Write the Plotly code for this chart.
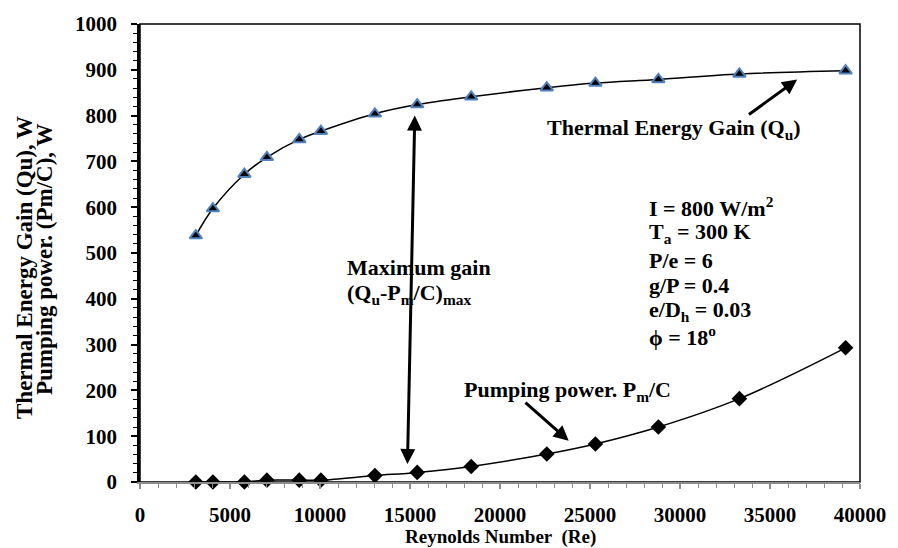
import plotly.graph_objects as go

# ---------------- data ----------------
reynolds = [3100, 4050, 5800, 7050, 8850, 10050, 13050, 15400, 18400, 22600, 25300, 28800, 33300, 39200]
thermal_gain = [538, 597, 672, 709, 748, 766, 804, 824, 841, 861, 871, 879, 891, 898]
pumping_power = [0, 0, 0, 4, 4, 4, 14, 21, 34, 61, 83, 120, 182, 293]

x_ticks = [0, 5000, 10000, 15000, 20000, 25000, 30000, 35000, 40000]
y_ticks = [0, 100, 200, 300, 400, 500, 600, 700, 800, 900, 1000]

FONT = "Liberation Serif"
fs = 22      # annotation text
tfs = 21     # tick labels

fig = go.Figure()

fig.add_trace(go.Scatter(
    x=reynolds, y=thermal_gain, mode="lines+markers",
    line=dict(color="black", width=1.5, shape="spline", smoothing=1.0),
    marker=dict(symbol="triangle-up", size=11, color="black",
                line=dict(color="#4F81BD", width=2)),
    showlegend=False, cliponaxis=False))

fig.add_trace(go.Scatter(
    x=reynolds, y=pumping_power, mode="lines+markers",
    line=dict(color="black", width=1.5, shape="spline", smoothing=1.0),
    marker=dict(symbol="diamond", size=12, color="black"),
    showlegend=False, cliponaxis=False))

ann = []
bold = lambda s: "<b>" + s + "</b>"
txtfont = dict(family=FONT, size=fs, color="black")

# Thermal energy gain label + arrow
ann.append(dict(x=29683, y=771, xref="x", yref="y", text=bold("Thermal Energy Gain (Q<sub>u</sub>)"),
                showarrow=False, font=txtfont))
ann.append(dict(x=36510, y=879, ax=33748, ay=800, xref="x", yref="y", axref="x", ayref="y",
                text="", showarrow=True, arrowhead=2, arrowsize=1, arrowwidth=3, arrowcolor="black", standoff=0))

# Pumping power label + arrow
ann.append(dict(x=23724, y=199, xref="x", yref="y", text=bold("Pumping power. P<sub>m</sub>/C"),
                showarrow=False, font=txtfont))
ann.append(dict(x=23814, y=90, ax=21334, ay=176, xref="x", yref="y", axref="x", ayref="y",
                text="", showarrow=True, arrowhead=2, arrowsize=1, arrowwidth=3, arrowcolor="black", standoff=0))

# Maximum gain double arrow
ann.append(dict(x=15266, y=800, ax=14858, ay=36, xref="x", yref="y", axref="x", ayref="y",
                text="", showarrow=True, arrowhead=2, startarrowhead=2, arrowside="end+start",
                arrowsize=1, startarrowsize=1, arrowwidth=3, arrowcolor="black", standoff=0, startstandoff=0))
ann.append(dict(x=11366, y=469, xref="x", yref="y", xanchor="left", text=bold("Maximum gain"),
                showarrow=False, font=txtfont))
ann.append(dict(x=11366, y=411, xref="x", yref="y", xanchor="left",
                text=bold("(Q<sub>u</sub>-P<sub>m</sub>/C)<sub>max</sub>"),
                showarrow=False, font=txtfont))

# Parameter block
params = ["I = 800 W/m<sup>2</sup>", "T<sub>a</sub> = 300 K", "P/e = 6", "g/P = 0.4",
          "e/D<sub>h</sub> = 0.03", "\u03d5 = 18<sup>o</sup>"]
param_y = [600, 544, 484, 428, 373, 319]
for t, yy in zip(params, param_y):
    ann.append(dict(x=28193, y=yy, xref="x", yref="y", xanchor="left", text=bold(t),
                    showarrow=False, font=txtfont))

# Axis titles (two separately placed lines for the y title)
ann.append(dict(x=-0.1614, y=0.469, xref="paper", yref="paper", textangle=-90,
                xanchor="center", yanchor="middle",
                text=bold("Thermal Energy Gain (Qu), W"),
                showarrow=False, font=dict(family=FONT, size=23, color="black")))
ann.append(dict(x=-0.1324, y=0.486, xref="paper", yref="paper", textangle=-90,
                xanchor="center", yanchor="middle",
                text=bold("Pumping power. (Pm/C), W"),
                showarrow=False, font=dict(family=FONT, size=23, color="black")))
ann.append(dict(x=0.5, y=-0.12, xref="paper", yref="paper", yanchor="middle",
                text=bold("Reynolds Number  (Re)"),
                showarrow=False, font=dict(family=FONT, size=19, color="black")))

fig.update_layout(
    width=898, height=548,
    margin=dict(l=140, r=33, t=15, b=66),
    paper_bgcolor="white", plot_bgcolor="white",
    annotations=ann,
    shapes=[dict(type="rect", xref="paper", yref="paper", x0=0, y0=0, x1=1, y1=1,
                 line=dict(color="black", width=1.5), layer="below")],
    xaxis=dict(range=[0, 40000], tickvals=x_ticks, ticktext=[bold(str(v)) for v in x_ticks],
               showgrid=False, zeroline=False, showline=True, linecolor="#8C8C8C", linewidth=2,
               ticks="outside", ticklen=5, tickwidth=1.5, tickcolor="#8C8C8C",
               ticklabelstandoff=8,
               minor=dict(dtick=1000, ticks="outside", ticklen=4, tickwidth=1.2, tickcolor="#8C8C8C"),
               tickfont=dict(family=FONT, size=tfs, color="black")),
    yaxis=dict(range=[0, 1000], tickvals=y_ticks, ticktext=[bold(str(v)) for v in y_ticks],
               showgrid=False, zeroline=False, showline=True, linecolor="black", linewidth=2.5,
               ticks="outside", ticklen=6, tickwidth=1.5, tickcolor="black",
               ticklabelstandoff=10,
               minor=dict(dtick=20, ticks="outside", ticklen=4, tickwidth=1.2, tickcolor="black"),
               tickfont=dict(family=FONT, size=tfs, color="black")),
)

fig.write_html("out.html")
